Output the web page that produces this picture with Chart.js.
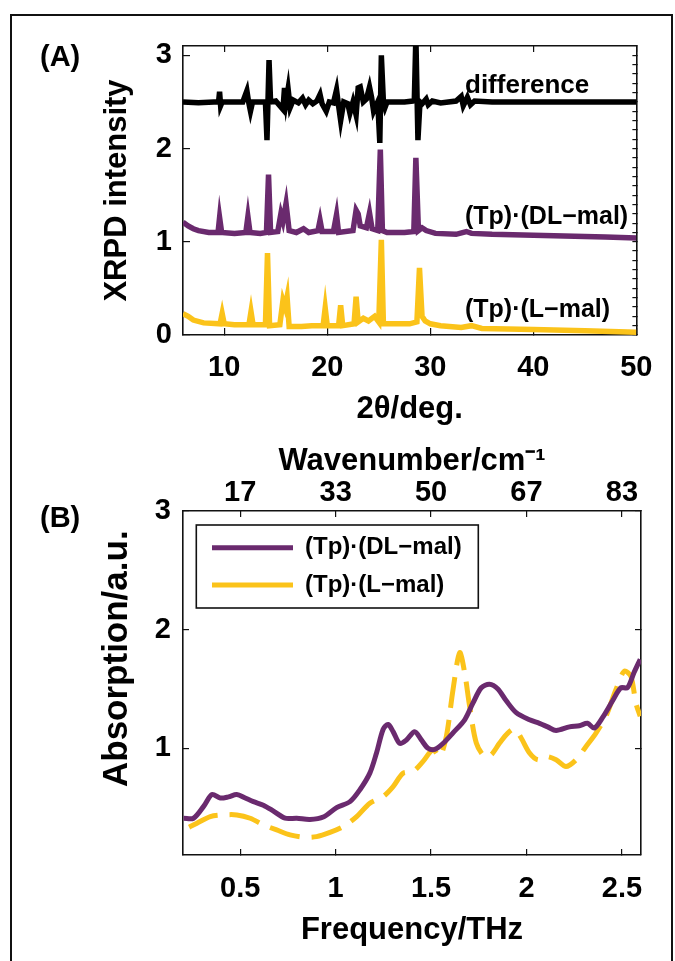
<!DOCTYPE html>
<html><head><meta charset="utf-8">
<script src="https://cdn.jsdelivr.net/npm/chart.js@4.4.1/dist/chart.umd.min.js"></script>
<style>
html,body{margin:0;padding:0;background:#fff;width:675px;height:961px;overflow:hidden;position:relative;}
#frame{position:absolute;left:10px;top:14px;width:663px;height:990px;border:2px solid #111;box-sizing:border-box;}
canvas{position:absolute;left:0;}
#cA{top:0;width:675px;height:440px;}
#cB{top:440px;width:675px;height:521px;}
.lab{position:absolute;white-space:nowrap;color:#000;line-height:1;font-family:'Liberation Sans',Arial,sans-serif;font-weight:bold;}
</style></head><body>
<div id="frame"></div>
<canvas id="cA" width="675" height="440"></canvas>
<canvas id="cB" width="675" height="521"></canvas>
<div class="lab" style="left:40px;top:42px;font-size:29px">(A)</div>
<div class="lab" style="left:40px;top:503px;font-size:29px">(B)</div>
<div class="lab" style="left:465px;top:71px;font-size:26px">difference</div>
<div class="lab" style="left:465px;top:203px;font-size:25px">(Tp)·(DL−mal)</div>
<div class="lab" style="left:465px;top:296px;font-size:25px">(Tp)·(L−mal)</div>
<script>
// ---------- Panel A: XRPD ----------
const thetaTicks = [10, 20, 30, 40, 50];
const intensityTicks = [0, 1, 2, 3];
const intensityMinorTicks = [0,0.1,0.2,0.3,0.4,0.5,0.6,0.7,0.8,0.9,1,1.1,1.2,1.3,1.4,1.5,1.6,1.7,1.8,1.9,2,2.1,2.2,2.3,2.4,2.5,2.6,2.7,2.8,2.9,3];

const diffTheta = [6.0,7.5,9.0,9.45,9.55,9.65,9.8,11.8,12.2,12.35,12.55,12.75,14.0,14.15,14.35,14.5,15.0,15.7,15.85,16.0,16.2,16.4,16.7,17.2,17.6,17.9,18.2,18.6,19.0,19.3,19.5,19.9,20.2,20.6,20.9,21.1,21.3,21.6,22.0,22.2,22.5,22.8,23.0,23.2,23.5,23.8,24.1,24.3,24.5,24.7,24.9,25.1,25.25,25.45,25.6,25.8,27.5,28.3,28.45,28.6,28.8,29.0,29.2,29.6,29.8,30.2,31.0,32.5,33.0,33.2,33.6,33.9,34.3,36,40,45,50];
const diffIntensity = [2.50,2.49,2.50,2.50,2.61,2.46,2.50,2.50,2.62,2.51,2.40,2.50,2.50,2.09,2.95,2.50,2.51,2.42,2.65,2.50,2.64,2.44,2.52,2.49,2.54,2.47,2.52,2.48,2.51,2.58,2.48,2.40,2.50,2.49,2.63,2.46,2.30,2.50,2.48,2.38,2.50,2.36,2.65,2.66,2.50,2.53,2.66,2.55,2.40,2.45,2.50,2.06,3.00,2.50,2.44,2.50,2.50,2.51,2.52,3.20,2.09,2.50,2.48,2.53,2.47,2.51,2.49,2.51,2.56,2.46,2.55,2.47,2.51,2.50,2.50,2.50,2.50];

const dlTheta = [6.0,6.5,7.0,7.5,8.5,9.4,9.55,9.75,11.0,12.1,12.3,12.5,13.5,14.1,14.3,14.5,15.2,15.5,15.7,16.0,16.3,17.0,17.7,18.2,19.1,19.3,19.5,20.6,20.9,21.1,22.5,22.8,23.0,23.2,23.8,24.1,24.35,24.9,25.15,25.35,25.8,27.5,28.4,28.6,28.85,29.2,29.6,30.5,32.5,33.5,34.0,36,40,44,47,50];
const dlIntensity = [1.21,1.17,1.14,1.12,1.10,1.10,1.26,1.10,1.09,1.10,1.27,1.10,1.09,1.10,1.72,1.10,1.11,1.30,1.22,1.41,1.12,1.10,1.14,1.10,1.12,1.23,1.11,1.11,1.29,1.10,1.12,1.34,1.30,1.17,1.15,1.31,1.14,1.12,1.99,1.12,1.10,1.10,1.11,1.90,1.12,1.15,1.12,1.09,1.08,1.11,1.09,1.08,1.07,1.06,1.05,1.04];

const lTheta = [6.0,6.5,7.0,8.0,9.6,9.8,10.0,11.0,12.4,12.6,12.8,14.0,14.2,14.4,15.4,15.7,15.9,16.1,16.3,17.5,18.5,19.6,19.8,20.0,21.1,21.3,21.5,22.6,22.8,23.0,23.5,24.0,24.6,25.0,25.25,25.45,26.0,28.0,28.7,28.95,29.2,29.5,30.0,31,33,34,35,40,45,50];
const lIntensity = [0.23,0.20,0.16,0.13,0.12,0.23,0.12,0.11,0.11,0.25,0.11,0.11,0.88,0.10,0.11,0.37,0.30,0.41,0.09,0.09,0.10,0.10,0.29,0.10,0.10,0.32,0.10,0.12,0.41,0.14,0.18,0.15,0.20,0.14,1.02,0.12,0.12,0.12,0.14,0.72,0.20,0.15,0.12,0.10,0.08,0.10,0.07,0.06,0.045,0.03];

// ---------- Panel B: THz absorption ----------
const freqTicks = [0.5, 1, 1.5, 2, 2.5];
const wavenumberLabels = ['17', '33', '50', '67', '83'];
const absTicks = [1, 2, 3];

const dlFreq = [0.203,0.255,0.308,0.352,0.395,0.438,0.482,0.526,0.569,0.621,0.674,0.735,0.796,0.865,0.935,1.005,1.075,1.127,1.179,1.214,1.249,1.275,1.301,1.336,1.371,1.414,1.449,1.484,1.519,1.562,1.615,1.676,1.719,1.763,1.806,1.85,1.894,1.946,2.016,2.068,2.111,2.155,2.225,2.277,2.32,2.355,2.399,2.451,2.495,2.529,2.564,2.596];
const dlAbs = [0.41,0.41,0.51,0.61,0.58,0.59,0.61,0.58,0.55,0.52,0.47,0.41,0.41,0.40,0.42,0.50,0.55,0.65,0.79,0.96,1.16,1.20,1.14,1.04,1.07,1.14,1.07,1.00,0.99,1.04,1.13,1.24,1.38,1.51,1.54,1.50,1.40,1.30,1.24,1.21,1.18,1.15,1.18,1.19,1.21,1.17,1.26,1.40,1.51,1.51,1.64,1.75];

const lFreq = [0.203,0.273,0.343,0.412,0.482,0.552,0.621,0.691,0.761,0.83,0.9,0.97,1.04,1.11,1.179,1.249,1.301,1.353,1.405,1.458,1.51,1.545,1.58,1.615,1.65,1.676,1.702,1.737,1.78,1.815,1.859,1.902,1.937,1.972,2.016,2.059,2.103,2.155,2.207,2.26,2.312,2.364,2.416,2.469,2.512,2.547,2.573,2.596];
const lAbs = [0.311,0.368,0.424,0.438,0.438,0.41,0.354,0.311,0.269,0.25,0.255,0.29,0.34,0.424,0.537,0.593,0.677,0.79,0.804,0.889,0.988,0.93,1.10,1.495,1.805,1.636,1.354,1.044,0.93,0.945,1.044,1.128,1.162,1.086,0.96,0.903,0.93,0.903,0.846,0.903,1.015,1.128,1.269,1.495,1.649,1.607,1.382,1.269];

// ---------- helpers ----------
const FONT = "'Liberation Sans', Arial, sans-serif";
const PURPLE = '#6a2a6e';
const YELLOW = '#fbc31a';
const pts = (xs, ys) => xs.map((x, i) => ({x: x, y: ys[i]}));
const setTicks = vals => s => { s.ticks = vals.map(v => ({value: v})); };
const fixSize = (prop, v) => s => { s[prop] = v; };
const plain = v => String(v);
const tickFont = {family: FONT, size: 29, weight: 'bold', lineHeight: 1.2};
const titleFont = {family: FONT, size: 31, weight: 'bold', lineHeight: 1.2};
const border = {display: true, color: '#111', width: 1.6};
const gridIn = len => ({drawOnChartArea: false, drawTicks: true, tickLength: -len, color: '#111', lineWidth: 1.2});

Chart.defaults.font.family = FONT;

new Chart(document.getElementById('cA'), {
  type: 'line',
  data: {datasets: [
    {label: 'difference', data: pts(diffTheta, diffIntensity), borderColor: '#000', borderWidth: 5.5, pointRadius: 0, tension: 0, xAxisID: 'x', yAxisID: 'y'},
    {label: '(Tp)·(DL−mal)', data: pts(dlTheta, dlIntensity), borderColor: PURPLE, borderWidth: 5.5, pointRadius: 0, tension: 0, xAxisID: 'x', yAxisID: 'y'},
    {label: '(Tp)·(L−mal)', data: pts(lTheta, lIntensity), borderColor: YELLOW, borderWidth: 5.5, pointRadius: 0, tension: 0, xAxisID: 'x', yAxisID: 'y'}
  ]},
  options: {
    responsive: false, animation: false, events: [],
    layout: {padding: 0},
    plugins: {legend: {display: false}, tooltip: {enabled: false}},
    scales: {
      x: {type: 'linear', position: 'bottom', min: 6, max: 50,
          afterBuildTicks: setTicks(thetaTicks), afterFit: fixSize('height', 105),
          grid: gridIn(7), border: border,
          ticks: {font: tickFont, color: '#000', padding: 22.5, maxRotation: 0, autoSkip: false, callback: plain},
          title: {display: true, text: '2θ/deg.', font: titleFont, color: '#000', padding: {top: 0, bottom: 12.4}}},
      xTop: {type: 'linear', position: 'top', min: 6, max: 50,
          afterBuildTicks: setTicks(thetaTicks), afterFit: fixSize('height', 46),
          grid: gridIn(6), border: border, ticks: {display: false}},
      y: {type: 'linear', position: 'left', min: 0, max: 3.1,
          afterBuildTicks: setTicks(intensityTicks), afterFit: fixSize('width', 183),
          grid: gridIn(7), border: border,
          ticks: {font: tickFont, color: '#000', padding: 18, callback: plain},
          title: {display: true, text: 'XRPD intensity', font: titleFont, color: '#000', padding: {top: 98.4, bottom: 0}}},
      yRight: {type: 'linear', position: 'right', min: 0, max: 3.1,
          afterBuildTicks: setTicks(intensityMinorTicks), afterFit: fixSize('width', 33),
          grid: gridIn(4), border: border, ticks: {display: false}}
    }
  }
});

const legendBoxPlugin = {
  id: 'legendBox',
  beforeDraw(chart) {
    const lg = chart.legend;
    if (!lg) return;
    lg.left = chart.chartArea.left + 15.7;
    lg.top = chart.chartArea.top + 11.4;
  },
  afterDraw(chart) {
    const lg = chart.legend;
    if (!lg) return;
    const ctx = chart.ctx;
    ctx.save();
    ctx.strokeStyle = '#111';
    ctx.lineWidth = 1.6;
    ctx.strokeRect(lg.left - 2.4, lg.top + 2.6, 282, 83);
    ctx.restore();
  }
};

new Chart(document.getElementById('cB'), {
  type: 'line',
  data: {datasets: [
    {label: '(Tp)·(DL−mal)', data: pts(dlFreq, dlAbs), borderColor: PURPLE, backgroundColor: PURPLE, borderWidth: 5, pointRadius: 0, tension: 0.3, xAxisID: 'x', yAxisID: 'y'},
    {label: '(Tp)·(L−mal)', data: pts(lFreq, lAbs), borderColor: YELLOW, backgroundColor: YELLOW, borderWidth: 5, borderDash: [31, 12], borderDashOffset: 36.7, pointRadius: 0, tension: 0.3, xAxisID: 'x', yAxisID: 'y'}
  ]},
  options: {
    responsive: false, animation: false, events: [],
    layout: {padding: 0},
    plugins: {
      tooltip: {enabled: false},
      legend: {display: true, position: 'chartArea', align: 'start',
        labels: {usePointStyle: true, pointStyle: 'line', pointStyleWidth: 81, boxHeight: 24, padding: 13.3,
                 font: {family: FONT, size: 24, weight: 'bold'}, color: '#000'}}
    },
    scales: {
      x: {type: 'linear', position: 'bottom', min: 0.2, max: 2.6,
          afterBuildTicks: setTicks(freqTicks), afterFit: fixSize('height', 106),
          grid: gridIn(6), border: border,
          ticks: {font: tickFont, color: '#000', padding: 22.5, maxRotation: 0, autoSkip: false, callback: plain},
          title: {display: true, text: 'Frequency/THz', font: titleFont, color: '#000', padding: {top: 0, bottom: 12.4}}},
      xTop: {type: 'linear', position: 'top', min: 0.2, max: 2.6,
          afterBuildTicks: setTicks(freqTicks), afterFit: fixSize('height', 71),
          grid: gridIn(6), border: border,
          ticks: {font: tickFont, color: '#000', padding: 7, maxRotation: 0, autoSkip: false,
                  callback: (v, i) => wavenumberLabels[i]},
          title: {display: true, text: 'Wavenumber/cm⁻¹', font: titleFont, color: '#000', padding: {top: 2.4, bottom: 0}}},
      y: {type: 'linear', position: 'left', min: 0.1, max: 3,
          afterBuildTicks: setTicks(absTicks), afterFit: fixSize('width', 183),
          grid: gridIn(6), border: border,
          ticks: {font: tickFont, color: '#000', padding: 18, callback: plain},
          title: {display: true, text: '     Absorption/a.u.', font: {family: FONT, size: 35, weight: 'bold', lineHeight: 1.2}, color: '#000', padding: {top: 96.5, bottom: 0}}},
      yRight: {type: 'linear', position: 'right', min: 0.1, max: 3,
          afterBuildTicks: setTicks(absTicks), afterFit: fixSize('width', 34),
          grid: gridIn(6), border: border, ticks: {display: false}}
    }
  },
  plugins: [legendBoxPlugin]
});
</script>
</body></html>
